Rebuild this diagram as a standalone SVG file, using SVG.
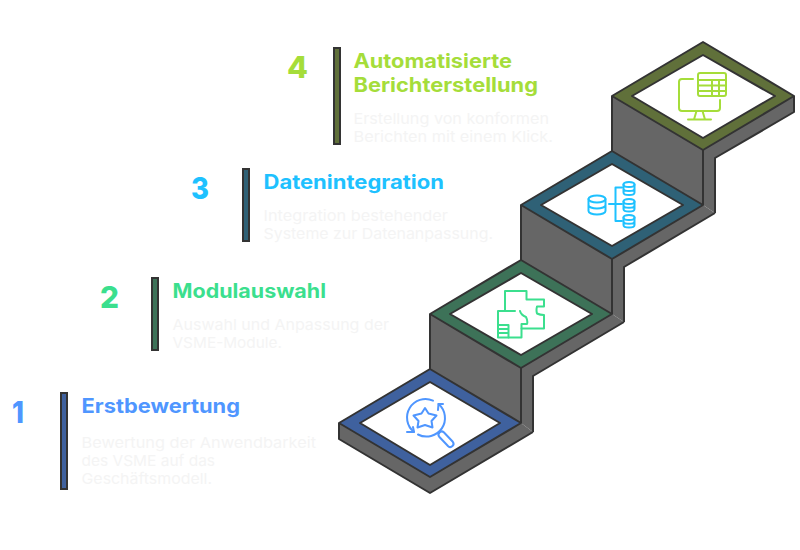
<svg xmlns="http://www.w3.org/2000/svg" width="800" height="550" viewBox="0 0 800 550">
<style>
text{font-family:"Inter","Open Sans","Liberation Sans",sans-serif}
.t{font-size:20px;font-weight:700}
.n{font-size:30px;font-weight:800}
.d{font-size:15px;font-weight:400;fill:#f4f4f4}
.s{fill:#666}
.l{fill:none;stroke:#333;stroke-width:2;stroke-linejoin:round}
.top{stroke:#333;stroke-width:2;stroke-linejoin:round}
.in{fill:#fff;stroke:#333;stroke-width:2;stroke-linejoin:round}
.bar{stroke:#333;stroke-width:2}
.i{fill:none;stroke-width:2;stroke-linecap:round;stroke-linejoin:round}
.c1{fill:#3f619e}.c2{fill:#3d7258}.c3{fill:#2f6176}.c4{fill:#60703a}
.f1{fill:#4f96ff}.f2{fill:#3bdf8e}.f3{fill:#1ec1ff}.f4{fill:#a5dd3a}
</style>
<g id="connectors"/>
<g id="step-4">
<polygon class="s" points="612,96 612,151 703,205 715,213 715,158 794,112 794,96"/>
<path class="l" d="M612 96V151M703 150V205M794 96V112L715 158V213"/>
<polygon class="top c4" points="612,96 703,42 794,96 703,150"/>
<polygon class="in" points="632,96 703,55 775,96 703,138"/>
<g class="i" stroke="#a5dd3a">
<path d="M693 79H682Q679 79 679 82V108Q679 111 682 111H717Q720 111 720 108V100"/>
<path d="M696.500 111L694 119.500M702.500 111L705 119.500M688 119.500H711"/>
<rect x="698" y="73" width="28" height="23" rx="2"/>
<path d="M698 80H726M698 85.500H726M698 91H726M712 80V96M719 80V96"/>
</g>
<rect class="bar c4" x="334" y="48" width="6" height="96"/>
<text class="n f4" x="287" y="78" textLength="21" lengthAdjust="spacingAndGlyphs">4</text>
<text class="t f4" x="353.500" y="68" textLength="158.500" lengthAdjust="spacingAndGlyphs">Automatisierte</text>
<text class="t f4" x="353.500" y="92" textLength="184.500" lengthAdjust="spacingAndGlyphs">Berichterstellung</text>
<text class="d" x="353.500" y="124" textLength="195.500" lengthAdjust="spacingAndGlyphs">Erstellung von konformen</text>
<text class="d" x="353.500" y="142" textLength="199.500" lengthAdjust="spacingAndGlyphs">Berichten mit einem Klick.</text>
</g>
<g id="step-3">
<polygon class="s" points="521,205 521,260 612,314 624,322 624,267 715,213 703,205"/>
<path class="l" d="M521 205V260M612 259V314M715 213L624 267V322"/>
<polygon class="top c3" points="521,205 612,151 703,205 612,259"/>
<polygon class="in" points="541,205 612,164 683,205 612,246"/>
<g class="i" stroke="#1ec1ff">
<ellipse cx="597" cy="199" rx="8.500" ry="3.500"/>
<path d="M588.500 199V211A8.500 3.500 0 0 0 605.500 211V199M588.500 205A8.500 3.500 0 0 0 605.500 205"/>
<path d="M609 204H622M622 187.500H615.500V221H622"/>
<ellipse cx="629" cy="184.500" rx="5.500" ry="2.500"/>
<path d="M623.500 184.500V192.500A5.500 2.500 0 0 0 634.500 192.500V184.500M623.500 188.500A5.500 2.500 0 0 0 634.500 188.500"/>
<ellipse cx="629" cy="201.500" rx="5.500" ry="2.500"/>
<path d="M623.500 201.500V209A5.500 2.500 0 0 0 634.500 209V201.500M623.500 205.200A5.500 2.500 0 0 0 634.500 205.200"/>
<ellipse cx="629" cy="217.500" rx="5.500" ry="2.500"/>
<path d="M623.500 217.500V225A5.500 2.500 0 0 0 634.500 225V217.500M623.500 221.200A5.500 2.500 0 0 0 634.500 221.200"/>
</g>
<rect class="bar c3" x="243" y="169" width="6" height="72"/>
<text class="n f3" x="191" y="199" textLength="18" lengthAdjust="spacingAndGlyphs">3</text>
<text class="t f3" x="263.500" y="189" textLength="180.500" lengthAdjust="spacingAndGlyphs">Datenintegration</text>
<text class="d" x="263.500" y="221" textLength="184.500" lengthAdjust="spacingAndGlyphs">Integration bestehender</text>
<text class="d" x="263.500" y="239" textLength="229.500" lengthAdjust="spacingAndGlyphs">Systeme zur Datenanpassung.</text>
</g>
<g id="step-2">
<polygon class="s" points="430,314 430,369 521,423 533,432 533,376 624,322 612,314"/>
<path class="l" d="M430 314V369M521 368V423M624 322L533 376V432"/>
<polygon class="top c2" points="430,314 521,260 612,314 521,368"/>
<polygon class="in" points="450,314 521,273 592,314 521,355"/>
<g class="i" stroke="#3bdf8e">
<path d="M505 291H526.500V299.500H544V306.500H537Q536 310 537 313.500Q540 315 544 315V328.500H521.500V337.500H498V311H505Z"/>
<path d="M505 311H515M520 311Q521 315 526 317Q528 321 527 324H521.500V328.500M498 325H508.500V337.500M498 329H508.500M498 333H508.500"/>
</g>
<rect class="bar c2" x="152" y="278" width="6" height="72"/>
<text class="n f2" x="100" y="308" textLength="19" lengthAdjust="spacingAndGlyphs">2</text>
<text class="t f2" x="172.500" y="298" textLength="153.500" lengthAdjust="spacingAndGlyphs">Modulauswahl</text>
<text class="d" x="172.500" y="330" textLength="216.500" lengthAdjust="spacingAndGlyphs">Auswahl und Anpassung der</text>
<text class="d" x="172.500" y="348" textLength="109.500" lengthAdjust="spacingAndGlyphs">VSME-Module.</text>
</g>
<g id="step-1">
<polygon class="s" points="339,423 339,439 430,493 533,432 521,423"/>
<path class="l" d="M339 423V439L430 493L533 432"/>
<polygon class="top c1" points="339,423 430,369 521,423 430,477"/>
<polygon class="in" points="360,423 430,382 500,423 430,465"/>
<g class="i" stroke="#4f96ff">
<path d="M414 432A18.500 18.500 0 0 1 433 400.600M438.500 404A18.500 18.500 0 0 1 418 434.500"/>
<path d="M407 432H414L413 427M443 404H438.500L438 410"/>
<path d="M425 408L428.500 413.500L436.500 415.500L431.500 421L432.500 427.500L425 425L417.500 427.500L418.500 421L413.500 415.500L421.500 413.500Z"/>
<path d="M443.800 432.300L452.800 441.800A3.200 3.200 0 0 1 448.200 446.200L439.200 436.700A3.200 3.200 0 0 1 443.800 432.300Z"/>
</g>
<rect class="bar c1" x="61" y="393" width="6" height="96"/>
<text class="n f1" x="12" y="423" textLength="12" lengthAdjust="spacingAndGlyphs">1</text>
<text class="t f1" x="81.500" y="413" textLength="158.500" lengthAdjust="spacingAndGlyphs">Erstbewertung</text>
<text class="d" x="81.500" y="448" textLength="234.500" lengthAdjust="spacingAndGlyphs">Bewertung der Anwendbarkeit</text>
<text class="d" x="81.500" y="466" textLength="133.500" lengthAdjust="spacingAndGlyphs">des VSME auf das</text>
<text class="d" x="81.500" y="484" textLength="130.500" lengthAdjust="spacingAndGlyphs">Geschäftsmodell.</text>
</g>
</svg>
